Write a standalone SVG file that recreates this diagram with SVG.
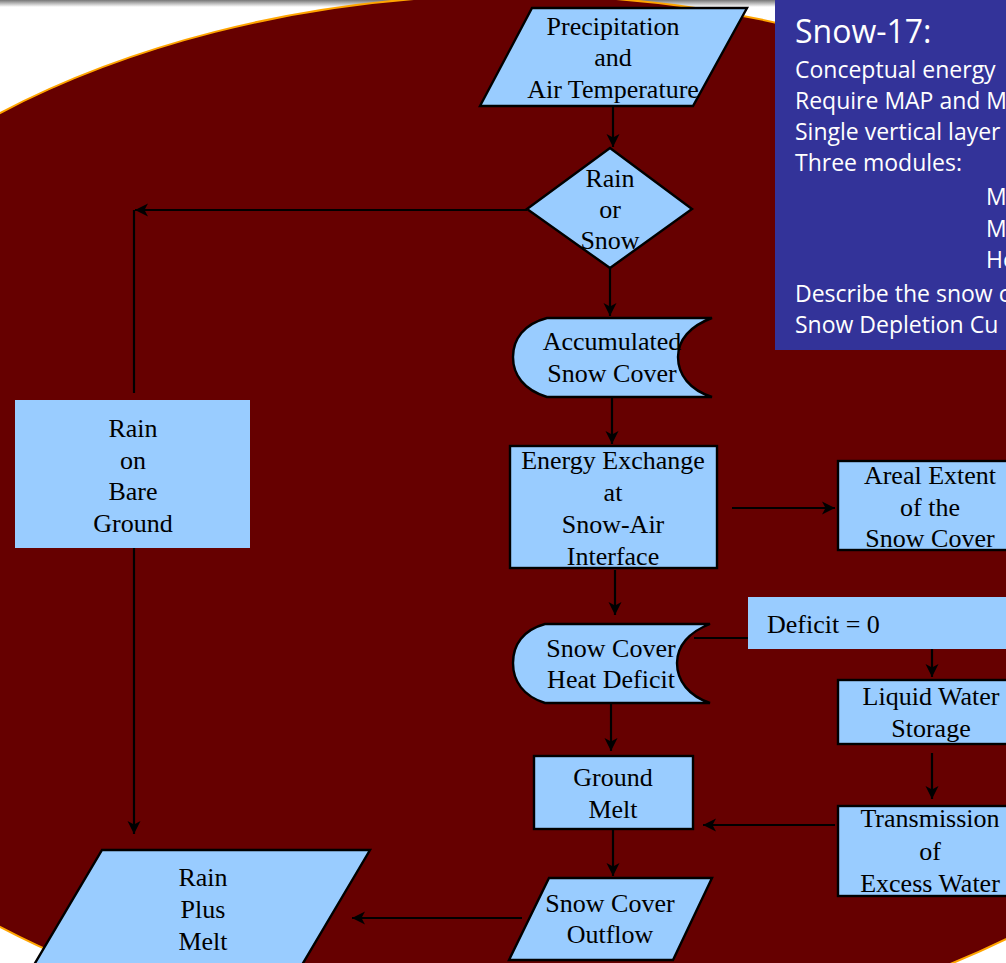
<svg xmlns="http://www.w3.org/2000/svg" width="1006" height="963" viewBox="0 0 1006 963">
<style>
.n{fill:#99CCFF;stroke:#000;stroke-width:2.4;stroke-linejoin:miter}
.nb{fill:#99CCFF;stroke:none}
.t{font-family:"Liberation Serif","Times New Roman",serif;font-size:26px;fill:#000;text-anchor:middle}
.tl{font-family:"Liberation Serif","Times New Roman",serif;font-size:26px;fill:#000}
.c{stroke:#000;stroke-width:2.2;fill:none}
.ca{stroke:#000;stroke-width:2.2;fill:none;marker-end:url(#ah)}
.b{font-family:"Open Sans","DejaVu Sans",sans-serif;font-size:23px;fill:#fff}
.bt{font-family:"Open Sans","DejaVu Sans",sans-serif;font-size:32px;fill:#fff}
</style>
<defs>
<linearGradient id="sh" x1="0" y1="0" x2="0" y2="1">
<stop offset="0" stop-color="#777"/>
<stop offset="1" stop-color="#fff"/>
</linearGradient>
<marker id="ah" viewBox="0 0 14 14" refX="13" refY="7" markerWidth="14" markerHeight="14" markerUnits="userSpaceOnUse" orient="auto">
<path d="M0,0.5 L13,7 L0,13.5 L3.5,7 Z" fill="#000"/>
</marker>
</defs>
<g id="background">
<rect x="0" y="0" width="1006" height="963" fill="#fff"/>
<rect x="0" y="0" width="1006" height="7" fill="url(#sh)"/>
<ellipse cx="515" cy="520" rx="815" ry="525" fill="#660000" stroke="#FFA500" stroke-width="2"/>
</g>
<g id="infobox">
<rect x="775" y="0" width="240" height="350" fill="#333399"/>
<text class="bt" x="795" y="43">Snow-17:</text>
<text class="b" x="795" y="78">Conceptual energy</text>
<text class="b" x="795" y="109">Require MAP and M</text>
<text class="b" x="795" y="140">Single vertical layer</text>
<text class="b" x="795" y="171">Three modules:</text>
<text class="b" x="986" y="205">M</text>
<text class="b" x="986" y="237">M</text>
<text class="b" x="986" y="268">He</text>
<text class="b" x="795" y="302">Describe the snow c</text>
<text class="b" x="795" y="333">Snow Depletion Cu</text>
</g>
<g id="connectors">
<line class="ca" x1="613" y1="106" x2="613" y2="147"/>
<line class="ca" x1="527" y1="210" x2="135" y2="210"/>
<line class="c" x1="134" y1="210" x2="134" y2="393"/>
<line class="ca" x1="610" y1="268" x2="610" y2="316"/>
<line class="ca" x1="612" y1="397" x2="612" y2="444"/>
<line class="ca" x1="732" y1="508" x2="835" y2="508"/>
<line class="ca" x1="615" y1="570" x2="615" y2="615"/>
<line class="c" x1="694" y1="638" x2="748" y2="638"/>
<line class="ca" x1="932" y1="649" x2="932" y2="677"/>
<line class="ca" x1="932" y1="753" x2="932" y2="799"/>
<line class="ca" x1="835" y1="825" x2="703" y2="825"/>
<line class="ca" x1="611" y1="703" x2="611" y2="751"/>
<line class="ca" x1="613" y1="829" x2="613" y2="876"/>
<line class="ca" x1="522" y1="918" x2="352" y2="918"/>
<line class="ca" x1="134" y1="538" x2="134" y2="834"/>
</g>
<g id="precip">
<polygon class="n" points="532,8 747,8 693,106 480,106"/>
<text class="t" x="613" y="35">Precipitation</text>
<text class="t" x="613" y="66">and</text>
<text class="t" x="613" y="98">Air Temperature</text>
</g>
<g id="rain-or-snow">
<polygon class="n" points="610,148 692,209 610,268 527,209"/>
<text class="t" x="610" y="187">Rain</text>
<text class="t" x="610" y="218">or</text>
<text class="t" x="610" y="249">Snow</text>
</g>
<g id="rain-bare">
<rect class="nb" x="15" y="400" width="235" height="148"/>
<text class="t" x="133" y="437">Rain</text>
<text class="t" x="133" y="469">on</text>
<text class="t" x="133" y="500">Bare</text>
<text class="t" x="133" y="532">Ground</text>
</g>
<g id="accum">
<path class="n" d="M547,318 L712,318 C690,326 678,340 678,357 C678,375 690,390 712,397 L547,397 C524,390 513,375 513,357 C513,339 524,324 547,318 Z"/>
<text class="t" x="612" y="350">Accumulated</text>
<text class="t" x="612" y="382">Snow Cover</text>
</g>
<g id="energy">
<rect class="n" x="510" y="446" width="207" height="122"/>
<text class="t" x="613" y="469">Energy Exchange</text>
<text class="t" x="613" y="501">at</text>
<text class="t" x="613" y="533">Snow-Air</text>
<text class="t" x="613" y="565">Interface</text>
</g>
<g id="areal">
<rect class="n" x="838" y="461" width="180" height="89"/>
<text class="t" x="930" y="484">Areal Extent</text>
<text class="t" x="930" y="516">of the</text>
<text class="t" x="930" y="547">Snow Cover</text>
</g>
<g id="heat-deficit">
<path class="n" d="M545,624 L710,624 C689,632 677,646 677,663 C677,681 689,696 710,703 L545,703 C523,696 513,681 513,663 C513,645 523,630 545,624 Z"/>
<text class="t" x="611" y="657">Snow Cover</text>
<text class="t" x="611" y="688">Heat Deficit</text>
</g>
<g id="deficit0">
<rect class="nb" x="748" y="597" width="260" height="52"/>
<text class="tl" x="767" y="633">Deficit = 0</text>
</g>
<g id="liquid">
<rect class="n" x="838" y="680" width="180" height="64"/>
<text class="t" x="931" y="705">Liquid Water</text>
<text class="t" x="931" y="737">Storage</text>
</g>
<g id="transmission">
<rect class="n" x="838" y="806" width="180" height="90"/>
<text class="t" x="930" y="827">Transmission</text>
<text class="t" x="930" y="860">of</text>
<text class="t" x="930" y="892">Excess Water</text>
</g>
<g id="ground-melt">
<rect class="n" x="534" y="756" width="159" height="73"/>
<text class="t" x="613" y="786">Ground</text>
<text class="t" x="613" y="818">Melt</text>
</g>
<g id="outflow">
<polygon class="n" points="549,878 712,878 673,960 509,960"/>
<text class="t" x="610" y="912">Snow Cover</text>
<text class="t" x="610" y="943">Outflow</text>
</g>
<g id="rain-plus-melt">
<polygon class="n" points="102,850 370,850 296,975 28,975"/>
<text class="t" x="203" y="886">Rain</text>
<text class="t" x="203" y="918">Plus</text>
<text class="t" x="203" y="950">Melt</text>
</g>
</svg>
